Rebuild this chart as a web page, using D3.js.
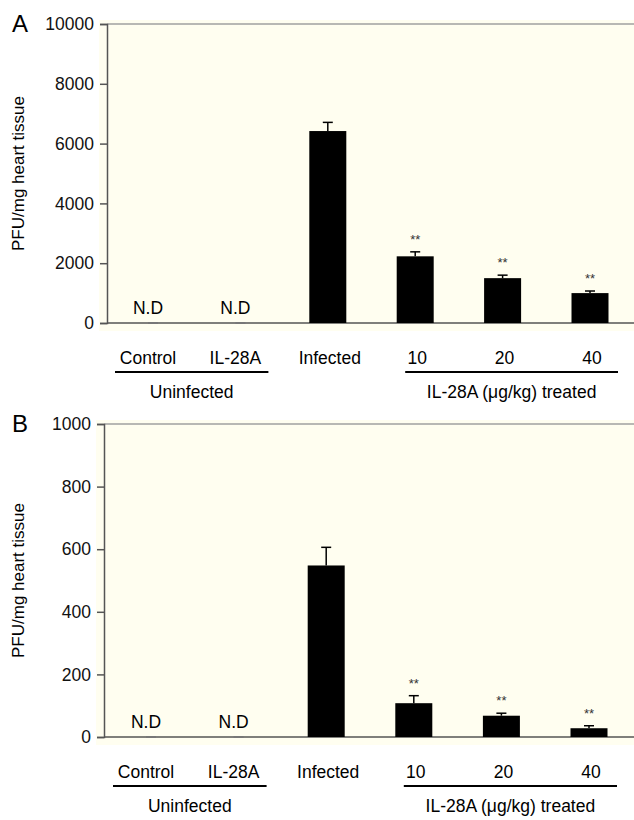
<!DOCTYPE html>
<html>
<head>
<meta charset="utf-8">
<script src="https://cdn.jsdelivr.net/npm/d3@7"></script>
<style>
  body { margin: 0; background: #fff; }
  svg { display: block; font-family: "Liberation Sans", Arial, sans-serif; }
</style>
</head>
<body>
<div id="chart"></div>
<script>
// categories and data
const categories = ["Control", "IL-28A", "Infected", "10", "20", "40"];
const notDetected = [true, true, false, false, false, false];
const starred = [false, false, false, true, true, true];

const valuesA = [0, 0, 6420, 2230, 1500, 1000];
const errorsA = [0, 0, 290, 150, 100, 70];
const ticksA = [0, 2000, 4000, 6000, 8000, 10000];

const valuesB = [0, 0, 548, 108, 68, 28];
const errorsB = [0, 0, 58, 24, 8, 8];
const ticksB = [0, 200, 400, 600, 800, 1000];

const groups = [
    { label: "Uninfected", from: "Control", to: "IL-28A", padL: 38, padR: 28 },
    { label: "IL-28A (\u03bcg/kg) treated", from: "10", to: "40", padL: 10, padR: 28 }
];

const width = 634, height = 820;
const svg = d3.select("#chart").append("svg")
    .attr("width", width)
    .attr("height", height);

function drawPanel(opt) {
    const g = svg.append("g");
    const y = d3.scaleLinear().domain([0, opt.max]).range([opt.y0, opt.y1]);
    const x = d3.scalePoint().domain(categories).range(opt.xRange);
    const barW = 37;

    // cream plot background
    g.append("rect")
        .attr("x", opt.axisX - 8).attr("y", opt.y1 - 4)
        .attr("width", width - opt.axisX + 8).attr("height", opt.y0 - opt.y1 + 12)
        .attr("fill", "#fffef0");

    // top frame line
    g.append("line")
        .attr("x1", opt.axisX).attr("x2", width)
        .attr("y1", opt.y1).attr("y2", opt.y1)
        .attr("stroke", "#a0a0a0").attr("stroke-width", 1.5);

    const yAxis = g.append("g")
        .attr("transform", `translate(${opt.axisX},0)`)
        .call(d3.axisLeft(y).tickValues(opt.ticks).tickSize(7).tickPadding(6).tickFormat(d3.format("d")));
    yAxis.select(".domain").attr("stroke", "#555").attr("stroke-width", 1.5);
    yAxis.selectAll(".tick line").attr("stroke", "#555").attr("stroke-width", 1.5);
    yAxis.selectAll(".tick text")
        .attr("font-size", 17.5).attr("fill", "#111")
        .attr("font-family", "Liberation Sans, Arial, sans-serif");

    // baseline
    g.append("line")
        .attr("x1", opt.axisX).attr("x2", width)
        .attr("y1", y(0)).attr("y2", y(0))
        .attr("stroke", "#555").attr("stroke-width", 1.5);

    const data = categories.map((c, i) => ({ c, v: opt.values[i], e: opt.errors[i], nd: notDetected[i], star: starred[i] }));

    // bars
    g.selectAll(".bar").data(data.filter(d => !d.nd)).join("rect")
        .attr("x", d => x(d.c) - barW / 2)
        .attr("y", d => y(d.v))
        .attr("width", barW)
        .attr("height", d => y(0) - y(d.v))
        .attr("fill", "#000");

    // error bars (upper only)
    const eb = g.selectAll(".err").data(data.filter(d => !d.nd)).join("g");
    eb.append("line")
        .attr("x1", d => x(d.c)).attr("x2", d => x(d.c))
        .attr("y1", d => y(d.v)).attr("y2", d => y(d.v + d.e))
        .attr("stroke", "#000").attr("stroke-width", 1.5);
    eb.append("line")
        .attr("x1", d => x(d.c) - 5).attr("x2", d => x(d.c) + 5)
        .attr("y1", d => y(d.v + d.e)).attr("y2", d => y(d.v + d.e))
        .attr("stroke", "#000").attr("stroke-width", 1.5);

    // N.D markers
    const nd = data.filter(d => d.nd);
    g.selectAll(".ndmark").data(nd).join("line")
        .attr("x1", d => x(d.c) - 5).attr("x2", d => x(d.c) + 5)
        .attr("y1", y(0)).attr("y2", y(0))
        .attr("stroke", "#777").attr("stroke-width", 2);
    g.selectAll(".ndtext").data(nd).join("text")
        .attr("x", d => x(d.c) - 5)
        .attr("y", y(0) - 9)
        .attr("text-anchor", "middle")
        .attr("font-size", 17.5)
        .text("N.D");

    // significance stars
    g.selectAll(".star").data(data.filter(d => d.star)).join("text")
        .attr("x", d => x(d.c))
        .attr("y", d => y(d.v + d.e) - 8)
        .attr("text-anchor", "middle")
        .attr("font-size", 13)
        .attr("fill", "#333")
        .text("**");

    // category labels
    g.selectAll(".cat").data(categories).join("text")
        .attr("x", d => x(d) + (d === "Control" || d === "IL-28A" ? -5 : 2))
        .attr("y", y(0) + 41)
        .attr("text-anchor", "middle")
        .attr("font-size", 17.5)
        .text(d => d);

    // group underlines and labels
    groups.forEach(gr => {
        const x1 = x(gr.from) - gr.padL, x2 = x(gr.to) + gr.padR;
        g.append("line")
            .attr("x1", x1).attr("x2", x2)
            .attr("y1", y(0) + 49).attr("y2", y(0) + 49)
            .attr("stroke", "#000").attr("stroke-width", 2);
        g.append("text")
            .attr("x", (x1 + x2) / 2)
            .attr("y", y(0) + 75)
            .attr("text-anchor", "middle")
            .attr("font-size", 17.5)
            .text(gr.label);
    });

    // y title
    g.append("text")
        .attr("transform", `translate(${opt.titleX},${(opt.y0 + opt.y1) / 2}) rotate(-90)`)
        .attr("text-anchor", "middle")
        .attr("font-size", 17)
        .text("PFU/mg heart tissue");

    // panel letter
    g.append("text")
        .attr("x", 12).attr("y", opt.y1 + 8)
        .attr("font-size", 24)
        .text(opt.letter);
}

drawPanel({
    letter: "A", values: valuesA, errors: errorsA, ticks: ticksA, max: 10000,
    y0: 323, y1: 24, axisX: 107, xRange: [153, 590], titleX: 24
});

drawPanel({
    letter: "B", values: valuesB, errors: errorsB, ticks: ticksB, max: 1000,
    y0: 737, y1: 424, axisX: 104, xRange: [151, 589], titleX: 24
});
</script>
</body>
</html>
